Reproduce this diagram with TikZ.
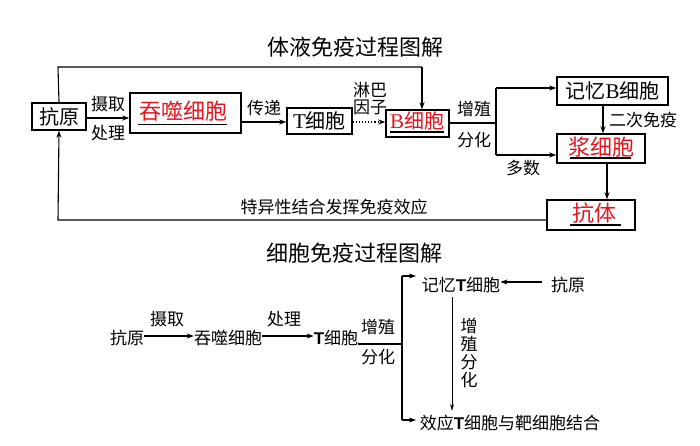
\documentclass[tikz,border=0pt]{standalone}
\usepackage{fontspec}
\setmainfont{Liberation Serif}
\newfontfamily\cjk{Noto Sans CJK SC}
\newfontfamily\lsans{Liberation Sans}
\usetikzlibrary{arrows.meta}
\definecolor{redtxt}{RGB}{230,20,30}
\begin{document}
\begin{tikzpicture}[x=1pt,y=-1pt,
  box/.style={draw,line width=1.5pt,inner sep=0pt,font=\cjk\fontsize{20}{20}\selectfont},
  rbox/.style={box,text=redtxt},
  lab/.style={inner sep=0pt,font=\cjk\fontsize{17}{17}\selectfont},
  ttl/.style={inner sep=0pt,font=\cjk\fontsize{22}{22}\selectfont},
  btxt/.style={inner sep=0pt,font=\cjk\fontsize{17}{17}\selectfont},
  conn/.style={line width=1.1pt,-{Stealth[length=7pt,width=5pt]}},
  plain/.style={line width=1.1pt},
  uline/.style={line width=1.3pt}]
\useasboundingbox (0,0) rectangle (700,445);
\fill[white] (0,0) rectangle (700,445);

% ---------- humoral immunity ----------
\node[ttl] (t1) at (355,47) {体液免疫过程图解};

\node[box,minimum width=54pt,minimum height=27pt] (ky) at (59,116.5) {抗原};
\node[rbox,minimum width=111pt,minimum height=40pt] (ts) at (185.5,113) {};
\node[inner sep=0pt,text=redtxt,font=\cjk\fontsize{22}{22}\selectfont] (tsT) at (183,111) {吞噬细胞};
\draw[uline] (138,124.5) -- (227,124.5);
\node[box,minimum width=65pt,minimum height=26pt] (tc) at (319.5,121) {{\rmfamily\fontsize{21}{21}\selectfont T}细胞};
\node[rbox,minimum width=63pt,minimum height=27pt] (bc) at (417.5,123.5) {};
\node[inner sep=0pt,text=redtxt,font=\cjk\fontsize{20}{20}\selectfont] (bcT) at (417,121) {{\rmfamily\fontsize{21}{21}\selectfont B}细胞};
\draw[uline] (390,132) -- (444,132);
\node[box,minimum width=111pt,minimum height=28pt] (jy) at (612.5,91) {记忆{\rmfamily\fontsize{21}{21}\selectfont B}细胞};
\node[rbox,minimum width=88pt,minimum height=29pt] (jx) at (601,148.5) {};
\node[inner sep=0pt,text=redtxt,font=\cjk\fontsize{22}{22}\selectfont] (jxT) at (601,147) {浆细胞};
\draw[uline] (570,158) -- (631,158);
\node[rbox,minimum width=88pt,minimum height=30pt] (kt) at (591,215) {};
\node[inner sep=0pt,text=redtxt,font=\cjk\fontsize{22}{22}\selectfont] (ktT) at (594,213) {抗体};
\draw[uline] (570,225) -- (621,225);

% connectors
\draw[conn] (ky.east |- 0,118) -- (ts.west |- 0,118);
\node[lab] (l1) at (108,104) {摄取};
\node[lab] (l2) at (108,133) {处理};
\draw[conn] (ts.east |- 0,122) -- (tc.west |- 0,122);
\node[lab] (l3) at (264,108) {传递};
\draw[line width=1.1pt,dotted,-{Stealth[length=7pt,width=5pt]}] (tc.east |- 0,122) -- (bc.west |- 0,122);
\node[lab] (l4) at (370,90) {淋巴};
\node[lab] (l5) at (370,107) {因子};
\coordinate (top1) at (58,67);
\draw[plain] (ky.north) -- (top1) -- (422,67);
\draw[conn] (422,67) -- (422,0 |- bc.north);
\coordinate (br) at (496,123);
\draw[plain] (bc.east |- br) -- (br);
\draw[plain] (496,88) -- (496,155);
\draw[conn] (496,88) -- (jy.west |- 0,88);
\draw[conn] (496,155) -- (jx.west |- 0,155);
\node[lab] (l6) at (474,109) {增殖};
\node[lab] (l7) at (474,140) {分化};
\node[lab] (l8) at (523,168) {多数};
\draw[conn] (603,0 |- jy.south) -- (603,0 |- jx.north);
\node[lab] (l9) at (643,120) {二次免疫};
\draw[conn] (607,0 |- jx.south) -- (607,0 |- kt.north);
\draw[conn] (kt.west |- 0,220) -- (58,220) -- (ky.south);
\node[lab] (l10) at (334,207) {特异性结合发挥免疫效应};

% ---------- cellular immunity ----------
\node[ttl] (t2) at (354,253) {细胞免疫过程图解};
\node[btxt] (a1) at (127,338) {抗原};
\node[btxt] (a2) at (228,338) {吞噬细胞};
\node[btxt] (a3) at (336,338) {{\lsans\bfseries T}细胞};
\draw[conn] (a1.east |- 0,336) -- (a2.west |- 0,336);
\node[btxt] (b1) at (167,319) {摄取};
\draw[conn] (a2.east |- 0,336) -- (a3.west |- 0,336);
\node[btxt] (b2) at (284,319) {处理};
\draw[plain] (a3.east |- 0,344) -- (402,344);
\node[btxt] (b3) at (378,327) {增殖};
\node[btxt] (b4) at (378,357) {分化};
\draw[plain] (402,276) -- (402,420);
\node[btxt] (c1) at (461,285) {记忆{\lsans\bfseries T}细胞};
\node[btxt] (c2) at (510,423) {效应{\lsans\bfseries T}细胞与靶细胞结合};
\node[btxt] (c3) at (568,285) {抗原};
\draw[conn] (402,276) -- (416,276);
\draw[conn] (402,420) -- (416,420);
\draw[conn] (542,282) -- (c1.east |- 0,282);
\draw[line width=0.9pt,-{Stealth[length=7pt,width=4pt]}] (452,297) -- (452,411);
\node[btxt,align=center,font=\cjk\fontsize{17}{18}\selectfont] (b5) at (469,353) {增\\殖\\分\\化};
\end{tikzpicture}
\end{document}
